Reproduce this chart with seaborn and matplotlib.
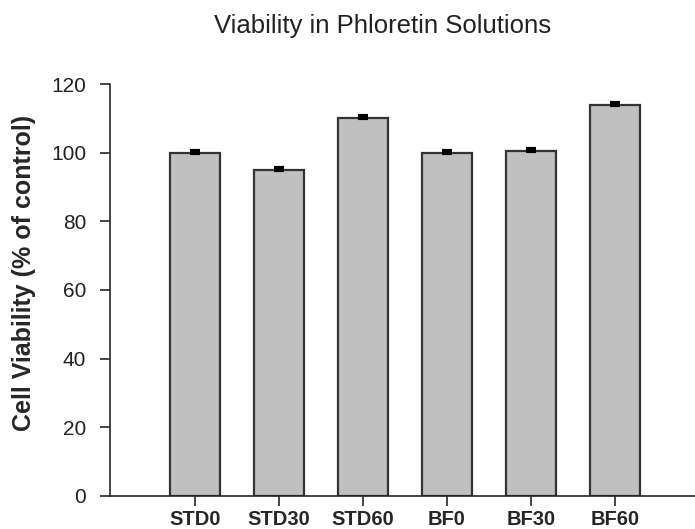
import pandas as pd
import matplotlib.pyplot as plt
import seaborn as sns

# Werte
groups = ['STD0', 'STD30', 'STD60', 'BF0', 'BF30', 'BF60']
viability = [100.0, 95.0, 110.0, 100.0, 100.5, 114.0]
errors = [0.5, 0.5, 0.7, 0.5, 0.5, 0.5]
y_ticks = [0, 20, 40, 60, 80, 100, 120]


def plot_viability():
    """Balkendiagramm der Zellviabilität."""
    sns.set_style('ticks')
    plt.rcParams['font.family'] = ['Liberation Sans', 'DejaVu Sans']

    df = pd.DataFrame({'group': groups, 'viability': viability, 'err': errors})

    fig = plt.figure(figsize=(6.95, 5.29), dpi=100)
    ax = fig.add_axes([0.158, 0.0624, 0.842, 0.7788])

    sns.barplot(data=df, x='group', y='viability', color='#c0c0c0', saturation=1,
                edgecolor='#333333', linewidth=1.6, width=0.6, errorbar=None, ax=ax)
    ax.errorbar(range(len(groups)), df['viability'], yerr=[[0] * len(groups), df['err']],
                fmt='none', ecolor='black', elinewidth=1.2, capsize=3.6, capthick=3)

    ax.set_xlim(-1.01, 5.95)
    ax.set_ylim(0, 120)
    ax.set_yticks(y_ticks)
    ax.tick_params(axis='y', labelsize=15, length=7, width=1.2, direction='out',
                   pad=10, labelcolor='#222222')
    ax.tick_params(axis='x', labelsize=14.5, length=7, width=1.2, direction='out', pad=3)
    for lbl in ax.get_xticklabels():
        lbl.set_fontweight('bold')

    ax.set_xlabel('')
    ax.set_ylabel('')
    for side in ['top', 'right']:
        ax.spines[side].set_visible(False)
    for side in ['left', 'bottom']:
        ax.spines[side].set_linewidth(1.2)

    fig.text(0.035, 0.484, 'Cell Viability (% of control)', rotation=90, ha='center',
             va='center', fontsize=18, fontweight='bold')
    fig.text(0.551, 0.938, 'Viability in Phloretin Solutions', ha='center',
             va='baseline', fontsize=18.5, color='#222222')

    fig.savefig('out.png', dpi=100)


plot_viability()
